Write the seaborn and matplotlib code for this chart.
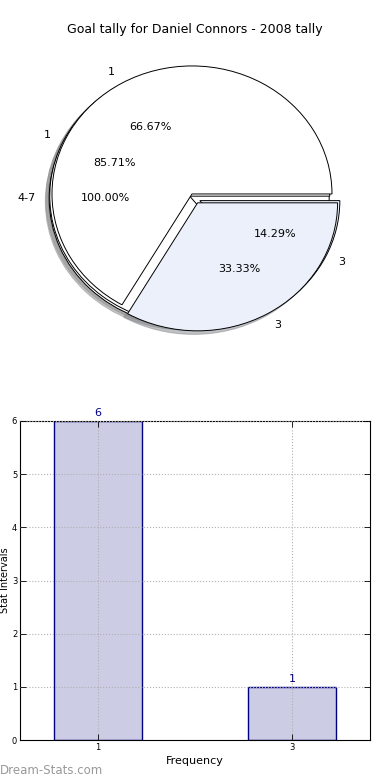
import numpy as np
import matplotlib
matplotlib.use("Agg")
import matplotlib.pyplot as plt
import pandas as pd
import seaborn as sns

# =========================================================
# Data
# =========================================================
title = "Goal tally for Daniel Connors - 2008 tally"

# three pie layers, drawn bottom to top
pie_all_labels = ["4-7"]
pie_all_values = [1]

pie_season_labels = ["1", "3"]
pie_season_values = [6, 1]

pie_top_labels = ["1", "3"]
pie_top_values = [2, 1]

bar_labels = ["1", "3"]
bar_counts = [6, 1]

wedge_colors = ["white", "#ebf0fb"]

# =========================================================
# Figure
# =========================================================
sns.set_style("white")
plt.rcParams["font.family"] = ["DejaVu Sans"]
plt.rcParams["text.color"] = "black"
plt.rcParams["axes.labelcolor"] = "black"
plt.rcParams["xtick.color"] = "black"
plt.rcParams["ytick.color"] = "black"

fig = plt.figure(figsize=(3.9, 7.8), dpi=100)

# ---------------- pie ----------------
ax_pie = fig.add_axes([0.0328, 0.5323, 0.9333, 0.4267])

for labels, values in [(pie_all_labels, pie_all_values),
                       (pie_season_labels, pie_season_values),
                       (pie_top_labels, pie_top_values)]:
    ax_pie.pie(values, labels=labels, colors=wedge_colors[:len(values)],
               explode=[0.04] * len(values), autopct="%1.2f%%",
               shadow={"ox": -0.02, "oy": -0.02, "shade": 0.45},
               startangle=0,
               wedgeprops=dict(edgecolor="black", linewidth=0.7),
               textprops=dict(fontsize=8, color="black"))

ax_pie.set_aspect("auto")
ax_pie.set_xlim(-1.3, 1.3)
ax_pie.set_ylim(-1.3, 1.3)
ax_pie.axis("off")

fig.text(0.5, 1 - 30 / 780, title, ha="center", va="center", fontsize=9)

# ---------------- bars ----------------
ax_bar = fig.add_axes([20 / 390, 40 / 780, 350 / 390, 319 / 780])

df = pd.DataFrame({"label": bar_labels, "count": bar_counts})
sns.barplot(data=df, x="label", y="count", ax=ax_bar, width=0.45,
            color="#ccccE5", edgecolor="#000080", linewidth=1.0,
            saturation=1)

for container in ax_bar.containers:
    ax_bar.bar_label(container, fontsize=8, color="#000080", padding=2)

ax_bar.set_xlim(-0.4, 1.4)
ax_bar.set_ylim(0, 6)
ax_bar.set_yticks(range(0, 7))
ax_bar.grid(True, color="#b0b0b0", linestyle=":", linewidth=0.8)
ax_bar.set_axisbelow(False)
ax_bar.tick_params(direction="in", length=4, width=0.6, labelsize=6,
                   top=True, right=True, bottom=True, left=True, pad=2)
for spine in ax_bar.spines.values():
    spine.set_color("black")
    spine.set_linewidth(0.8)

ax_bar.set_xlabel("Frequency", fontsize=8, labelpad=3)
ax_bar.set_ylabel("Stat Intervals", fontsize=7)
ax_bar.yaxis.set_label_coords(-0.028, 0.5)

fig.text(0.0, 1 - 770 / 780, "Dream-Stats.com", ha="left", va="center",
         fontsize=8.5, color="#999999")

fig.savefig("out.png", dpi=100)
